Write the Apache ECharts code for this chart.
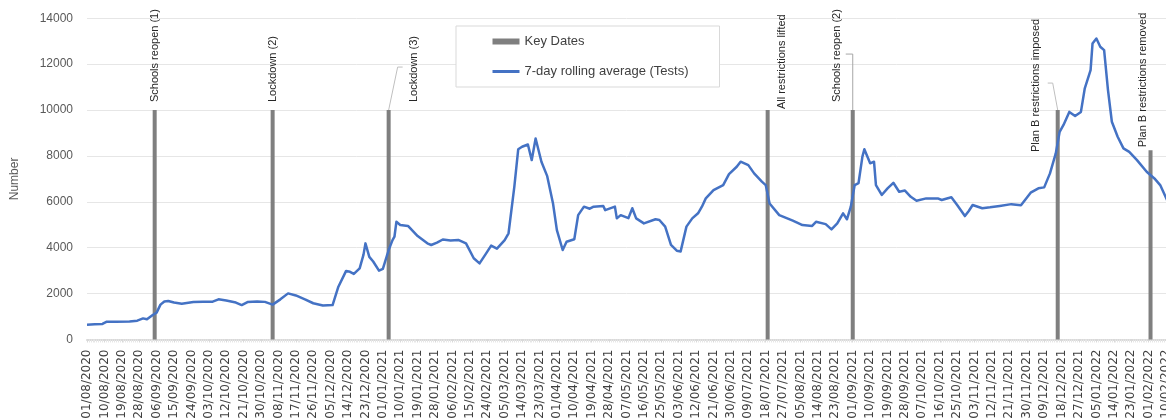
<!DOCTYPE html>
<html>
<head>
<meta charset="utf-8">
<script src="https://cdn.jsdelivr.net/npm/echarts@6/dist/echarts.min.js"></script>
<style>
html,body{margin:0;padding:0;background:#fff;overflow:hidden;}
#chart{width:1166px;height:419px;}
</style>
</head>
<body>
<div id="chart"></div>
<script>
// ---- DATA ----
const startDate = '01/08/2020';               // day 0 of the x axis
const axisEndDay = 558;                        // 10/02/2022
const tickEveryDays = 9;
const yTicks = [0, 2000, 4000, 6000, 8000, 10000, 12000, 14000];

// 7-day rolling average (Tests): days after 01/08/2020 and values
const lineDays = [0,4,8,10,15,22,26,29,31,34,36,38,40,42,45,49,55,60,65,68,72,77,80,83,88,92,96,100,104,108,113,117,122,127,128,130,134,136,138,141,143,144,146,148,151,153,156,158,159,160,162,166,171,176,178,181,184,188,192,196,200,203,206,209,212,216,218,221,223,225,228,230,232,235,238,241,243,246,248,252,254,257,260,262,267,268,273,274,276,280,282,284,288,294,296,299,302,305,307,310,313,316,318,320,324,329,332,336,338,342,345,349,351,353,358,365,370,375,377,382,385,388,391,393,395,397,399,401,402,405,407,408,411,414,417,420,423,426,429,434,440,442,447,450,454,456,458,463,467,472,478,483,488,492,495,498,501,503,505,508,509,511,514,516,519,520,522,524,526,528,530,533,536,539,543,548,552,555,559];
const lineValues = [640,660,680,770,775,780,820,920,880,1070,1170,1520,1660,1680,1610,1560,1630,1640,1650,1750,1700,1610,1500,1630,1660,1640,1520,1750,2010,1920,1740,1580,1480,1500,1550,2300,2990,2950,2860,3100,3700,4190,3600,3400,3000,3080,3900,4330,4480,5130,4990,4950,4510,4190,4120,4220,4360,4320,4340,4190,3540,3320,3700,4090,3960,4330,4630,6660,8290,8400,8500,7820,8760,7750,7120,5930,4770,3900,4260,4370,5420,5790,5700,5790,5820,5640,5790,5280,5420,5290,5720,5280,5060,5240,5210,4920,4120,3870,3840,4920,5280,5500,5790,6150,6510,6730,7210,7530,7750,7600,7240,6880,6730,5930,5420,5180,4990,4950,5130,5030,4800,5060,5500,5240,5790,6730,6820,7970,8290,7680,7750,6730,6300,6590,6830,6440,6490,6220,6050,6150,6150,6080,6200,5860,5380,5600,5860,5720,5760,5820,5900,5850,6400,6590,6630,7240,8110,9050,9350,9920,9960,9740,9920,10950,11740,12900,13120,12760,12610,10870,9490,8840,8330,8180,7820,7310,7020,6730,6000];

// Key dates
const keyDates   = ['05/09/2020','05/11/2020','04/01/2021','19/07/2021','01/09/2021','16/12/2021','02/02/2022'];
const keyHeights = [10000,10000,10000,10000,10000,10000,8250];
const keyLabels  = ['Schools reopen (1)','Lockdown (2)','Lockdown (3)','All restrictions lifted','Schools reopen (2)','Plan B restrictions imposed','Plan B restrictions removed'];

// ---- helpers ----
function parseDMY(s){ const p = s.split('/'); return Date.UTC(+p[2], +p[1]-1, +p[0]); }
const DAY = 86400000;
const t0 = parseDMY(startDate);
function dayOf(s){ return Math.round((parseDMY(s) - t0) / DAY); }
function dayToLabel(d){
  const dt = new Date(t0 + d * DAY);
  const dd = String(dt.getUTCDate()).padStart(2,'0');
  const mm = String(dt.getUTCMonth()+1).padStart(2,'0');
  return dd + '/' + mm + '/' + dt.getUTCFullYear();
}

// label placement (layout only): screen shift [right, down] in px
const labelShift = [[0,0],[0,0],[25,0],[14,7],[-16,0],[-22,50],[-8,5]];
// leader lines (layout only): pixel offsets from each bar top, null = none
const leaderPaths = [null, null,
  {pts:[[0,0],[9,-43],[14,-43]], color:'#bfbfbf'},
  null,
  {pts:[[0,0],[0,-56],[-7,-56]], color:'#a6a6a6'},
  {pts:[[0,0],[-5,-27],[-10,-27]], color:'#bfbfbf'},
  null];

const lineData = lineDays.map((d,i)=>[d, lineValues[i]]);
const barData = keyDates.map((s,i)=>[dayOf(s), keyHeights[i]]);

const chart = echarts.init(document.getElementById('chart'), null, {renderer:'canvas'});
chart.setOption({
  animation:false,
  grid:{left:87, right:0, top:18.3, bottom:79.5, containLabel:false, outerBoundsMode:'none'},
  legend:{
    orient:'vertical', left:456, top:26,
    padding:[9,31,9,35],
    borderColor:'#d9d9d9', borderWidth:1, backgroundColor:'#fff',
    itemGap:17, itemWidth:27, itemHeight:6,
    textStyle:{fontFamily:'Liberation Sans', fontSize:13, color:'#404040'},
    data:[
      {name:'Key Dates', icon:'rect'},
      {name:'7-day rolling average (Tests)', itemStyle:{opacity:0}, lineStyle:{width:3, color:'#4472C4'}}
    ]
  },
  xAxis:{
    type:'value', min:0, max:axisEndDay, interval:tickEveryDays,
    splitLine:{show:false},
    axisLine:{show:true, lineStyle:{color:'#d9d9d9', width:2}},
    axisTick:{show:true, length:3, lineStyle:{color:'#d9d9d9'}},
    minorTick:{show:true, splitNumber:tickEveryDays, length:3, lineStyle:{color:'#e6e6e6'}},
    axisLabel:{
      rotate:90, margin:10, fontFamily:'DejaVu Sans', fontSize:12, color:'#404040',
      formatter:function(v){ return (v % tickEveryDays === 0) ? dayToLabel(v) : ''; }
    }
  },
  yAxis:{
    type:'value', min:yTicks[0], max:yTicks[yTicks.length-1], interval:yTicks[1]-yTicks[0],
    name:'Number', nameLocation:'middle', nameGap:66,
    nameTextStyle:{fontFamily:'Liberation Sans', fontSize:12, color:'#595959'},
    axisLine:{show:false}, axisTick:{show:false},
    axisLabel:{margin:14, fontFamily:'Liberation Sans', fontSize:12, color:'#595959',
      formatter:function(v){ return String(v); }},
    splitLine:{lineStyle:{color:'#e6e6e6', width:1}}
  },
  series:[
    {
      name:'Key Dates', type:'bar', barWidth:4, data:barData, z:2,
      itemStyle:{color:'#7f7f7f'},
      label:{
        show:true, position:'top', rotate:90, distance:8,
        align:'left', verticalAlign:'middle',
        fontFamily:'Liberation Sans', fontSize:11, color:'#262626',
        formatter:function(p){ return keyLabels[p.dataIndex]; }
      },
      labelLine:{show:false},
      // label is rotated 90deg: its local x runs up the screen, local y runs right
      labelLayout:function(p){ const m = labelShift[p.dataIndex]; return {dx:-m[1], dy:m[0]}; }
    },
    {
      name:'7-day rolling average (Tests)', type:'line', data:lineData, z:3,
      symbol:'none', clip:true,
      lineStyle:{color:'#4472C4', width:2.5, join:'round'},
      itemStyle:{color:'#4472C4'}
    }
  ]
});

// leader lines anchored to bar tops through the chart's own scales
const graphics = [];
barData.forEach(function(v, i){
  const lp = leaderPaths[i];
  if (!lp) return;
  const top = chart.convertToPixel({gridIndex:0}, v);
  graphics.push({
    type:'polyline', z:1, silent:true,
    shape:{points: lp.pts.map(function(o){ return [top[0] + o[0], top[1] + o[1]]; })},
    style:{stroke: lp.color, lineWidth:1, fill:null}
  });
});
chart.setOption({graphic: graphics});
</script>
</body>
</html>
